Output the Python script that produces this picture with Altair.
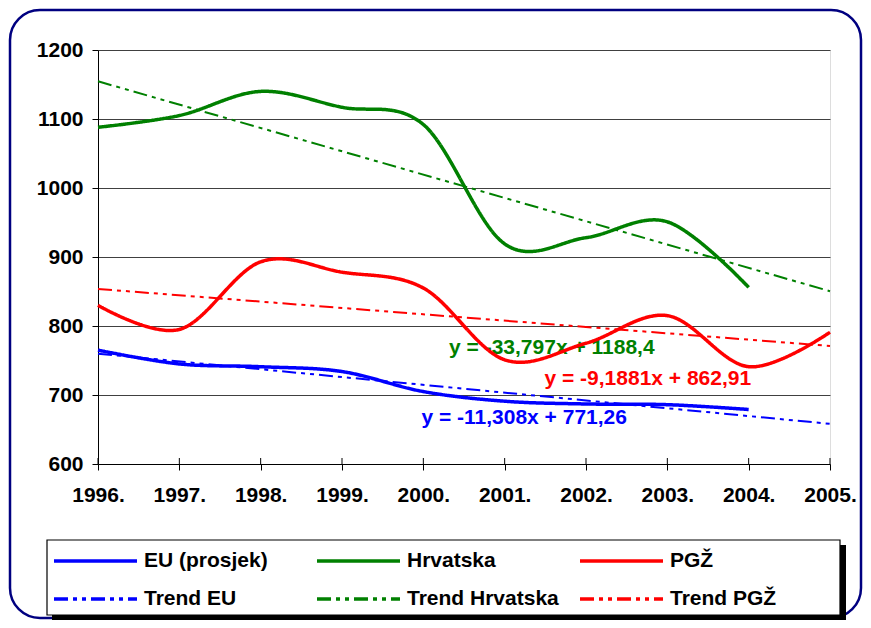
import altair as alt
import pandas as pd

# ---- data ----
years = [1996, 1997, 1998, 1999, 2000, 2001, 2002, 2003, 2004, 2005]
eu_values = [765, 745, 741, 734, 705, 691, 687, 686, 679]            # 1996-2004
hrv_values = [1088, 1105, 1140, 1117, 1092, 919, 928, 951, 856]       # 1996-2004
pgz_values = [830, 795, 893, 878, 855, 751, 775, 815, 741, 791]       # 1996-2005

series_names = ["EU (prosjek)", "Hrvatska", "PGŽ"]
trend_names = ["Trend EU", "Trend Hrvatska", "Trend PGŽ"]
series_colors = ["#0000FF", "#008000", "#FF0000"]

# linear trend equations as printed on the chart (x = 1 for 1996 ... 10 for 2005)
trend_slope = [-11.308, -33.797, -9.1881]
trend_intercept = [771.26, 1188.4, 862.91]
equation_texts = ["y = -11,308x + 771,26", "y = -33,797x + 1188,4", "y = -9,1881x + 862,91"]
equation_year = [2001.24, 2001.58, 2002.76]
equation_value = [667, 768, 723]

y_ticks = [600, 700, 800, 900, 1000, 1100, 1200]

FONT = "Liberation Sans"

# ---- tables ----
rows = []
for name, vals in zip(series_names, [eu_values, hrv_values, pgz_values]):
    for yr, v in zip(years, vals):
        rows.append({"year": yr, "value": v, "series": name})
main_df = pd.DataFrame(rows)

trows = []
for name, a, b in zip(trend_names, trend_slope, trend_intercept):
    for yr in (years[0], years[-1]):
        xi = yr - years[0] + 1
        trows.append({"year": yr, "value": a * xi + b, "series": name})
trend_df = pd.DataFrame(trows)

legend_domain = series_names + trend_names
legend_colors = series_colors + series_colors
legend_dashes = [[1, 0]] * 3 + [[14, 5, 4, 5, 4, 5]] * 3

x_scale = alt.Scale(domain=[1996, 2005], nice=False, zero=False)
y_scale = alt.Scale(domain=[600, 1200], nice=False, zero=False)

color_enc = alt.Color(
    "series:N",
    scale=alt.Scale(domain=legend_domain, range=legend_colors),
    legend=alt.Legend(
        title=None,
        orient="none",
        legendX=-46,
        legendY=500,
        direction="horizontal",
        columns=3,
        gridAlign="all",
        symbolType="stroke",
        symbolSize=6889,
        symbolStrokeWidth=3.5,
        clipHeight=22,
        labelFont=FONT,
        labelFontSize=21,
        labelFontWeight="bold",
        labelColor="black",
        labelOffset=5,
        labelLimit=300,
        columnPadding=19,
        rowPadding=16,
        padding=0,
    ),
)
dash_enc = alt.StrokeDash(
    "series:N",
    scale=alt.Scale(domain=legend_domain, range=legend_dashes),
)

x_enc = alt.X(
    "year:Q",
    scale=x_scale,
    axis=alt.Axis(
        values=years,
        labelExpr="datum.value + '.'",
        title=None,
        grid=False,
        tickSize=6,
        tickColor="black",
        domainColor="black",
        labelFont=FONT,
        labelFontSize=21,
        labelFontWeight="bold",
        labelColor="black",
        labelPadding=14,
        labelFlush=False,
    ),
)
y_enc = alt.Y(
    "value:Q",
    scale=y_scale,
    axis=alt.Axis(
        values=y_ticks,
        format="d",
        title=None,
        grid=True,
        gridColor="#404040",
        gridWidth=1,
        tickSize=6,
        tickColor="black",
        domainColor="black",
        labelFont=FONT,
        labelFontSize=21,
        labelFontWeight="bold",
        labelColor="black",
        labelPadding=9,
    ),
)

one = pd.DataFrame({"k": [0]})

frame = alt.Chart(one).mark_rect(
    cornerRadius=30, stroke="#000080", strokeWidth=2.5, fillOpacity=0, fill="white"
).encode(x=alt.value(-88), x2=alt.value(763), y=alt.value(-40), y2=alt.value(568))

legend_shadow = alt.Chart(one).mark_rect(color="black").encode(
    x=alt.value(-46), x2=alt.value(748), y=alt.value(495), y2=alt.value(570)
)
legend_box = alt.Chart(one).mark_rect(fill="white", stroke="black", strokeWidth=1.2).encode(
    x=alt.value(-51), x2=alt.value(742), y=alt.value(490), y2=alt.value(565)
)

inner_ticks = alt.Chart(pd.DataFrame({"year": years})).mark_rule(color="black", strokeWidth=1).encode(
    x=alt.X("year:Q", scale=x_scale), y=alt.value(408), y2=alt.value(414)
)

trend_lines = alt.Chart(trend_df).mark_line(strokeWidth=2).encode(
    x=x_enc, y=y_enc, color=color_enc, strokeDash=dash_enc
)
main_lines = alt.Chart(main_df).mark_line(
    strokeWidth=3.5, interpolate="cardinal", tension=0
).encode(x=x_enc, y=y_enc, color=color_enc, strokeDash=dash_enc)

eq_layers = []
for txt, yr, v, c in zip(equation_texts, equation_year, equation_value, series_colors):
    eq_layers.append(
        alt.Chart(pd.DataFrame({"year": [yr], "value": [v], "label": [txt]}))
        .mark_text(font=FONT, fontSize=21, fontWeight="bold", color=c, align="center", baseline="middle")
        .encode(x=alt.X("year:Q", scale=x_scale), y=alt.Y("value:Q", scale=y_scale), text="label:N")
    )

chart = alt.layer(
    frame, legend_shadow, legend_box, inner_ticks, *eq_layers, trend_lines, main_lines
).properties(
    width=732,
    height=414,
    autosize=alt.AutoSizeParams(type="none"),
    padding={"left": 90, "top": 42, "right": 33, "bottom": 156},
).configure_view(
    fill="#FBF0D8", stroke="#8C8C8C", strokeWidth=2
).configure(background="white")

chart.save("out.html", embed_options={"renderer": "svg", "actions": False})
